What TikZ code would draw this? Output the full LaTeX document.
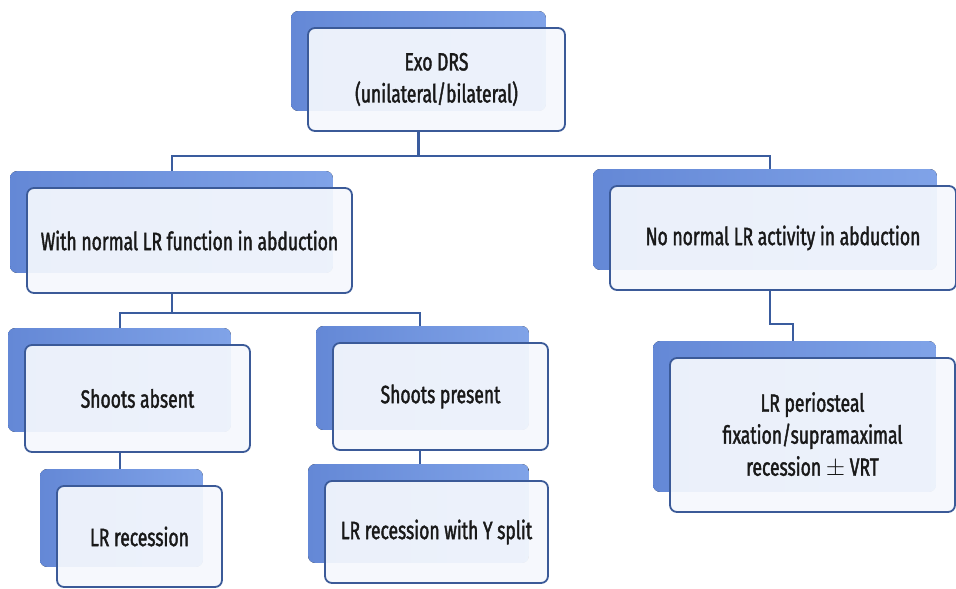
\documentclass[tikz,border=0pt]{standalone}
\usepackage{fontspec}
\setmainfont{Fira Sans}[FakeStretch=0.7, FakeBold=1.6]
\usepackage{amsmath}
\usetikzlibrary{backgrounds, calc}

\definecolor{boxline}{HTML}{3B5A98}
\definecolor{boxfill}{HTML}{F5F8FD}
\definecolor{backdark}{HTML}{6488D6}
\definecolor{backlight}{HTML}{80A3E8}
\definecolor{linkcol}{HTML}{3A5C9E}

\tikzset{
  card/.style={draw=boxline, line width=1.8pt, rounded corners=7pt, fill=boxfill,
    fill opacity=0.93, text opacity=1, text=black!90, align=center, inner sep=0pt,
    font=\fontsize{25}{32}\selectfont},
  backcard/.style={rounded corners=7pt, left color=backdark, right color=backlight},
  link/.style={draw=linkcol, line width=2.2pt}
}

\begin{document}
\begin{tikzpicture}[x=1pt, y=-1pt]
  \useasboundingbox (0,0) rectangle (956,589);

  % boxes
  \node[card, minimum width=257, minimum height=103] (top) at (436.5,79.5)
    {\rule{0pt}{14pt}Exo DRS\\(unilateral/bilateral)};
  \node[card, minimum width=325, minimum height=105] (with) at (189.5,240.5)
    {With normal LR function in abduction};
  \node[card, minimum width=346, minimum height=104] (nonorm) at (783,238)
    {No normal LR activity in abduction};
  \node[card, minimum width=225, minimum height=107] (sabs) at (137.5,398.5)
    {Shoots absent};
  \node[card, minimum width=215, minimum height=107] (spres) at (440.5,396.5)
    {Shoots present};
  \node[card, minimum width=165, minimum height=101] (lrrec) at (139.5,536.5)
    {LR recession};
  \node[card, minimum width=223, minimum height=102] (lry) at (436.5,532)
    {LR recession with Y split};
  \node[card, minimum width=285, minimum height=154] (peri) at (812.5,435)
    {LR periosteal\\fixation/supramaximal\\recession $\pm$ VRT};

  \begin{scope}[on background layer]
    % connectors
    \coordinate (split1) at ($([xshift=-18pt]top.south)+(0,24)$);
    \draw[link] ([xshift=-18pt]top.south) -- (split1);
    \draw[link] (split1) -| ([xshift=-17.5pt]with.north);
    \draw[link] (split1) -| ([xshift=-13pt]nonorm.north);

    \coordinate (split2) at ($([xshift=-17.5pt]with.south)+(0,19)$);
    \draw[link] ([xshift=-17.5pt]with.south) -- (split2);
    \draw[link] (split2) -| ([xshift=-17.5pt]sabs.north);
    \draw[link] (split2) -| ([xshift=-20.5pt]spres.north);

    \draw[link] ([xshift=-17.5pt]sabs.south) -- ([xshift=-19.5pt]lrrec.north);
    \draw[link] ([xshift=-20.5pt]spres.south) -- ([xshift=-16.5pt]lry.north);

    \coordinate (split3) at ($([xshift=-13pt]nonorm.south)+(0,33)$);
    \draw[link] ([xshift=-13pt]nonorm.south) -- (split3)
      -| ([xshift=-19.5pt]peri.north);

    % shadow cards
    \foreach \n in {top, with, nonorm, sabs, spres, lrrec, lry, peri}
      \fill[backcard] ($(\n.north west)+(-16,-16)$) rectangle ($(\n.south east)+(-20,-21)$);
  \end{scope}
\end{tikzpicture}
\end{document}
